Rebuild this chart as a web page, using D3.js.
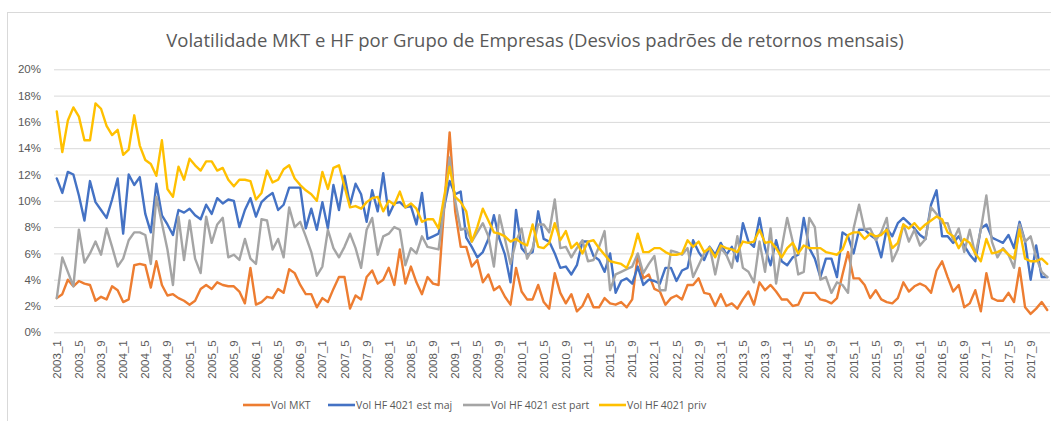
<!DOCTYPE html>
<html>
<head>
<meta charset="utf-8">
<script src="https://cdn.jsdelivr.net/npm/d3@7"></script>
<style>
  body { margin: 0; background: #fff; }
  svg { display: block; font-family: 'Open Sans', sans-serif; }
</style>
</head>
<body>
<svg id="chart" width="1051" height="421"></svg>
<script>
var title = 'Volatilidade MKT e HF por Grupo de Empresas (Desvios padrões de retornos mensais)'

var years = d3.range(2003, 2018)
var categories = []
years.forEach(function (y) {
  for (var m = 1; m <= 12; m++) categories.push(y + '_' + m)
})
// every 4th month gets a label
var tickLabels = categories.filter(function (c, i) { return i % 4 === 0 })
var yTicks = [0, 2, 4, 6, 8, 10, 12, 14, 16, 18, 20]

// values in %, one row per year
var volMkt = [
  2.6, 2.9, 4.0, 3.5, 3.9, 3.7, 3.6, 2.4, 2.7, 2.5, 3.5, 3.2,
  2.3, 2.5, 5.1, 5.2, 5.1, 3.4, 5.4, 3.6, 2.8, 2.9, 2.6, 2.4,
  2.1, 2.4, 3.3, 3.6, 3.3, 3.8, 3.6, 3.5, 3.5, 3.1, 2.2, 4.9,
  2.1, 2.3, 2.7, 2.6, 3.3, 3.0, 4.8, 4.5, 3.6, 2.9, 2.9, 1.9,
  2.6, 2.3, 3.3, 4.2, 4.2, 1.8, 2.8, 2.5, 4.2, 4.7, 3.7, 4.0,
  4.9, 3.6, 6.3, 3.7, 5.0, 3.8, 2.9, 4.2, 3.7, 3.6, 9.4, 15.2,
  9.2, 6.5, 6.5, 5.0, 5.5, 3.8, 4.4, 3.2, 3.5, 2.7, 2.1, 4.9,
  3.1, 2.5, 2.5, 3.6, 2.3, 1.8, 4.5, 3.0, 2.2, 2.9, 1.6, 2.0,
  2.9, 1.9, 1.9, 2.6, 2.2, 2.1, 2.3, 1.9, 2.5, 5.9, 4.1, 4.4,
  3.3, 3.1, 2.1, 2.6, 2.8, 2.5, 3.6, 3.6, 4.1, 3.0, 2.9, 2.0,
  2.9, 2.0, 2.2, 1.8, 2.5, 3.1, 2.1, 3.8, 3.2, 3.6, 3.1, 2.5,
  2.5, 2.0, 2.1, 3.0, 3.0, 3.0, 2.5, 2.4, 2.2, 2.6, 4.4, 6.1,
  4.1, 4.1, 3.6, 2.6, 3.2, 2.5, 2.3, 2.2, 2.6, 3.8, 3.1, 3.5,
  3.7, 3.5, 3.0, 4.7, 5.4, 4.2, 3.1, 3.6, 1.9, 2.2, 3.2, 1.6,
  4.5, 2.6, 2.4, 2.4, 3.0, 2.3, 4.9, 1.9, 1.4, 1.8, 2.3, 1.7
]

var volEstMaj = [
  11.7, 10.6, 12.2, 12.0, 10.4, 8.5, 11.5, 9.9, 9.3, 8.7, 10.1, 11.7,
  7.5, 12.0, 11.2, 11.8, 9.0, 7.6, 11.3, 8.9, 8.2, 7.4, 9.3, 9.1,
  9.4, 8.9, 8.6, 9.7, 9.0, 10.2, 9.8, 10.1, 10.0, 8.0, 9.3, 10.2,
  8.8, 9.9, 10.3, 10.6, 9.3, 9.7, 11.0, 11.0, 11.0, 7.9, 9.4, 7.8,
  9.9, 7.9, 11.2, 9.3, 11.9, 9.7, 11.3, 10.5, 8.4, 10.8, 9.2, 12.1,
  8.9, 9.8, 9.9, 9.5, 9.6, 8.2, 10.6, 7.1, 7.3, 7.5, 9.5, 11.5,
  10.5, 10.7, 7.2, 6.5, 5.7, 6.1, 7.1, 8.9, 7.1, 5.9, 3.8, 9.3,
  6.4, 5.9, 6.1, 9.2, 7.1, 6.9, 6.0, 4.9, 5.0, 4.4, 5.1, 6.9,
  6.9, 5.8, 5.5, 4.6, 6.0, 3.0, 3.9, 4.1, 3.7, 5.0, 3.6, 4.0,
  3.9, 3.7, 4.9, 4.9, 3.9, 4.7, 4.9, 7.0, 6.1, 5.5, 6.5, 5.9,
  6.8, 5.9, 6.5, 5.4, 8.3, 6.9, 6.5, 8.7, 6.4, 5.1, 7.0, 5.4,
  5.1, 5.7, 5.9, 8.7, 6.4, 5.6, 4.2, 5.6, 5.6, 4.2, 7.6, 7.3,
  6.0, 7.8, 7.8, 7.4, 7.1, 5.7, 7.9, 7.3, 8.3, 8.7, 8.3, 7.9,
  7.4, 7.1, 9.7, 10.8, 7.3, 7.3, 6.8, 7.3, 6.6, 5.9, 5.4, 7.9,
  8.2, 7.2, 7.0, 6.8, 7.4, 6.4, 8.4, 6.9, 4.0, 6.6, 4.2, 4.2
]

var volEstPart = [
  2.6, 5.7, 4.6, 3.5, 7.8, 5.3, 6.0, 6.9, 5.9, 7.9, 6.5, 5.0,
  5.6, 7.0, 7.6, 7.6, 7.4, 5.2, 10.3, 8.3, 6.3, 3.6, 8.8, 5.5,
  8.5, 5.6, 4.5, 8.8, 6.8, 8.2, 8.7, 5.7, 5.9, 5.5, 7.1, 5.6,
  5.2, 8.6, 8.5, 6.3, 7.1, 5.7, 9.5, 8.0, 8.4, 7.3, 6.1, 4.3,
  5.0, 7.8, 6.4, 5.7, 6.5, 7.5, 6.4, 4.9, 7.8, 8.7, 5.9, 7.3,
  7.5, 8.0, 7.8, 5.1, 6.4, 6.0, 7.3, 6.5, 6.4, 6.3, 9.5, 13.3,
  10.0, 7.8, 7.9, 6.9, 7.6, 8.3, 7.3, 5.0, 8.9, 7.1, 5.2, 6.9,
  7.9, 5.6, 6.4, 8.2, 8.2, 7.6, 10.1, 6.4, 6.5, 5.7, 6.4, 7.0,
  5.4, 5.5, 6.5, 7.7, 3.2, 4.4, 4.6, 4.8, 5.0, 6.0, 4.5, 5.2,
  5.8, 3.2, 3.2, 6.2, 6.1, 5.9, 6.4, 4.2, 5.1, 6.0, 6.5, 4.4,
  6.4, 5.9, 4.9, 7.3, 4.9, 4.6, 3.8, 6.9, 4.6, 7.9, 3.7, 6.4,
  8.7, 6.9, 4.4, 4.6, 8.7, 8.0, 4.0, 4.2, 3.0, 3.8, 3.6, 3.0,
  7.9, 9.7, 7.8, 7.9, 7.0, 7.6, 8.7, 5.4, 6.3, 8.2, 6.9, 7.8,
  6.6, 7.1, 9.5, 9.0, 8.3, 8.3, 7.0, 7.9, 6.1, 7.8, 5.9, 7.8,
  10.4, 6.9, 5.7, 6.4, 5.9, 4.9, 8.2, 6.9, 7.3, 5.7, 4.6, 4.2
]

var volPriv = [
  16.8, 13.7, 16.1, 17.1, 16.4, 14.6, 14.6, 17.4, 17.0, 15.7, 15.0, 15.4,
  13.5, 13.9, 16.5, 14.2, 13.1, 12.8, 11.9, 14.6, 10.9, 10.3, 12.6, 11.6,
  13.2, 12.7, 12.3, 13.0, 13.0, 12.3, 12.5, 11.6, 11.1, 11.6, 11.6, 11.5,
  10.1, 10.6, 12.3, 11.4, 11.6, 12.4, 12.7, 11.7, 11.2, 10.8, 10.5, 10.0,
  12.2, 10.9, 12.5, 12.7, 11.1, 9.5, 9.6, 9.4, 9.9, 10.2, 10.3, 9.2,
  10.0, 9.7, 10.7, 9.5, 9.8, 9.4, 8.4, 8.6, 8.6, 7.9, 10.3, 12.6,
  10.3, 9.9, 9.2, 6.9, 8.0, 9.4, 8.5, 7.6, 7.5, 7.3, 6.9, 7.1,
  6.8, 6.6, 8.2, 6.5, 6.4, 6.8, 8.3, 7.0, 7.7, 6.4, 6.8, 6.0,
  6.9, 7.0, 6.4, 5.9, 5.4, 5.3, 5.2, 4.9, 5.9, 7.5, 6.1, 6.1,
  6.4, 6.4, 6.1, 5.9, 5.9, 6.0, 7.0, 6.5, 6.9, 6.1, 6.4, 5.7,
  6.6, 6.4, 6.3, 6.1, 6.9, 6.8, 6.9, 7.8, 6.8, 6.9, 6.4, 5.7,
  6.4, 6.8, 6.0, 6.6, 6.4, 6.4, 6.4, 6.1, 6.0, 5.9, 6.3, 7.4,
  7.6, 7.6, 7.1, 7.5, 7.3, 7.4, 7.8, 6.4, 6.8, 8.2, 7.9, 8.3,
  7.8, 8.2, 8.5, 8.8, 8.6, 7.6, 7.3, 6.4, 7.1, 6.8, 6.0, 5.4,
  7.1, 6.0, 6.1, 6.3, 5.9, 5.6, 7.8, 5.6, 5.4, 5.4, 5.6, 5.2
]

var seriesNames = ['Vol MKT', 'Vol HF 4021 est maj', 'Vol HF 4021 est part', 'Vol HF 4021 priv']
var seriesColors = ['#ed7d31', '#4472c4', '#a5a5a5', '#ffc000']

var series = [volMkt, volEstMaj, volEstPart, volPriv].map(function (vals, k) {
  return { name: seriesNames[k], color: seriesColors[k], values: vals }
})

var svg = d3.select('#chart')
var W = 1051
var H = 421
var plot = { left: 54, right: 1050, top: 69.3, bottom: 332.3 }

// chart frame
svg.append('rect')
  .attr('x', 7.5).attr('y', 12.5)
  .attr('width', W + 10).attr('height', H + 10)
  .attr('fill', '#fff')
  .attr('stroke', '#d9d9d9')

var x = d3.scaleBand()
  .domain(categories)
  .range([plot.left, plot.right])

var y = d3.scaleLinear()
  .domain([0, 20])
  .range([plot.bottom, plot.top])

var cx = function (c) { return x(c) + x.bandwidth() / 2 }

// gridlines + y labels
var yAxis = d3.axisLeft(y)
  .tickValues(yTicks)
  .tickSize(-(plot.right - plot.left))
  .tickPadding(13)
  .tickFormat(function (d) { return d + '%' })

var gy = svg.append('g')
  .attr('transform', 'translate(' + plot.left + ',0)')
  .call(yAxis)
gy.select('.domain').remove()
gy.selectAll('.tick line').attr('stroke', '#d9d9d9')
gy.selectAll('.tick text')
  .attr('fill', '#595959')
  .attr('font-size', 11.5)

// x labels (rotated), no tick marks
var xAxis = d3.axisBottom(x)
  .tickValues(tickLabels)
  .tickSize(0)

var gx = svg.append('g')
  .attr('transform', 'translate(0,' + plot.bottom + ')')
  .call(xAxis)
gx.select('.domain').remove()
gx.selectAll('.tick text')
  .attr('fill', '#595959')
  .attr('font-size', 11.5)
  .attr('transform', 'rotate(-90)')
  .attr('text-anchor', 'end')
  .attr('x', -8)
  .attr('y', 0)
  .attr('dy', '0.35em')

// lines
var line = d3.line()
  .x(function (d, i) { return cx(categories[i]) })
  .y(function (d) { return y(d) })

svg.append('g')
  .selectAll('path')
  .data(series)
  .join('path')
  .attr('d', function (s) { return line(s.values) })
  .attr('fill', 'none')
  .attr('stroke', function (s) { return s.color })
  .attr('stroke-width', 2.4)
  .attr('stroke-linejoin', 'round')
  .attr('stroke-linecap', 'round')

// title
svg.append('text')
  .attr('x', 535)
  .attr('y', 47)
  .attr('text-anchor', 'middle')
  .attr('fill', '#595959')
  .attr('font-size', 18.5)
  .text(title)

// legend
var legendX = [243, 328, 463, 599]
var legend = svg.append('g')
  .selectAll('g')
  .data(series)
  .join('g')
  .attr('transform', function (s, i) { return 'translate(' + legendX[i] + ',405)' })

legend.append('line')
  .attr('x1', 0).attr('x2', 27)
  .attr('stroke', function (s) { return s.color })
  .attr('stroke-width', 2.6)

legend.append('text')
  .attr('x', 28)
  .attr('dy', '0.35em')
  .attr('fill', '#595959')
  .attr('font-size', 10.5)
  .text(function (s) { return s.name })
</script>
</body>
</html>
